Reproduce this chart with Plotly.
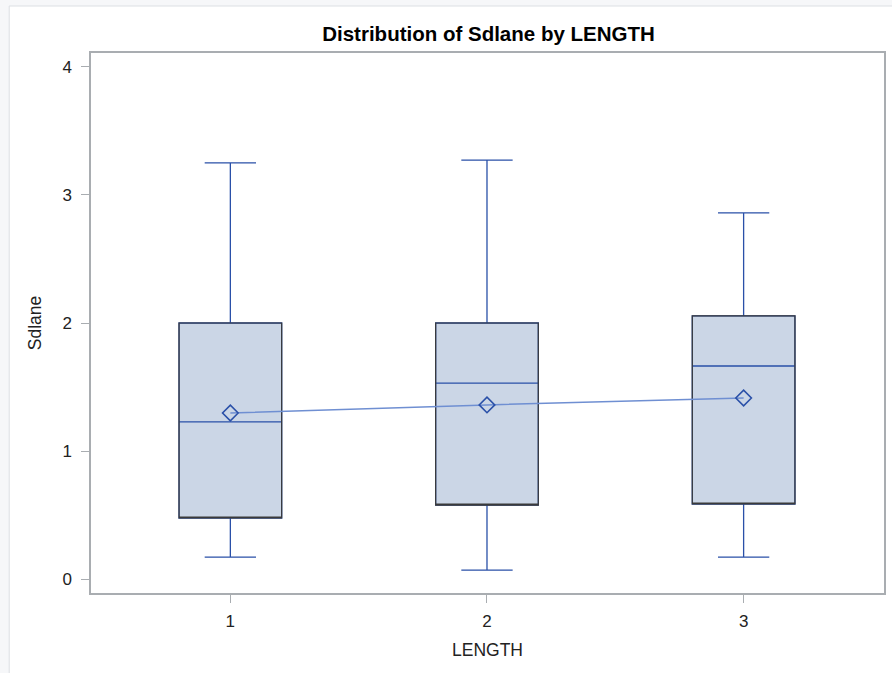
import plotly.graph_objects as go

categories = [1, 2, 3]
q1 = [0.477, 0.578, 0.586]
median = [1.227, 1.531, 1.664]
q3 = [2.0, 2.0, 2.055]
lower = [0.172, 0.070, 0.172]
upper = [3.25, 3.273, 2.86]
means = [1.297, 1.360, 1.414]

BLUE = "#2a50a8"
FILL = "#cbd6e6"
DARK = "#3a3a3a"
AXIS = "#a9adb1"

fig = go.Figure()

# Whiskers, fill and median (blue)
fig.add_trace(go.Box(
    x=categories, q1=q1, median=median, q3=q3,
    lowerfence=lower, upperfence=upper,
    width=0.4, whiskerwidth=0.5,
    fillcolor=FILL, line=dict(color=BLUE, width=1.3),
    boxpoints=False, showlegend=False, hoverinfo="skip",
))
# Dark box outline on top
fig.add_trace(go.Box(
    x=categories, q1=q1, median=q1, q3=q3,
    lowerfence=q1, upperfence=q3,
    width=0.4, whiskerwidth=0,
    fillcolor="rgba(0,0,0,0)", line=dict(color=DARK, width=1.2),
    boxpoints=False, showlegend=False, hoverinfo="skip",
))
# Mean connect line with diamond markers
fig.add_trace(go.Scatter(
    x=categories, y=means, mode="lines+markers",
    line=dict(color="#6f8fd2", width=1.5),
    marker=dict(symbol="diamond-open", size=12, color=BLUE, line=dict(width=1.6, color=BLUE)),
    showlegend=False, hoverinfo="skip",
))

# outer frame
fig.add_shape(type="rect", xref="paper", yref="paper",
              x0=(9 - 91) / 795, x1=(900 - 91) / 795,
              y0=(593 - 680) / 540, y1=(593 - 6) / 540,
              fillcolor="white", line=dict(color="#dcdfe3", width=1), layer="below")

fig.update_layout(
    width=892, height=673,
    margin=dict(l=91, r=6, t=53, b=80),
    paper_bgcolor="#f6f7f9", plot_bgcolor="white",
    boxmode="overlay",
    font=dict(family="Liberation Sans, Arial, sans-serif", size=17, color="#222222"),
    title=dict(text="<b>Distribution of Sdlane by LENGTH</b>", x=488.5 / 892, xanchor="center",
               y=1 - 34 / 673, yanchor="middle", yref="container",
               font=dict(size=20.5, color="#000000")),
    xaxis=dict(range=[0.457, 3.547], tickvals=categories, ticktext=[str(c) for c in categories],
               showgrid=False, zeroline=False, showline=True, linecolor=AXIS, linewidth=1.5,
               mirror=True, ticks="outside", ticklen=8, tickcolor=AXIS,
               ticklabelstandoff=4,
               title=dict(text="LENGTH", standoff=14, font=dict(size=17.5))),
    yaxis=dict(range=[-0.109, 4.109], tickvals=[0, 1, 2, 3, 4],
               showgrid=False, zeroline=False, showline=True, linecolor=AXIS, linewidth=1.5,
               mirror=True, ticks="outside", ticklen=8, tickcolor=AXIS,
               ticklabelstandoff=6,
               title=dict(text="Sdlane", standoff=16, font=dict(size=17.5))),
)

fig.write_html("out.html", config={"displayModeBar": False},
               post_script="document.body.style.margin='0';document.body.style.padding='0';")
